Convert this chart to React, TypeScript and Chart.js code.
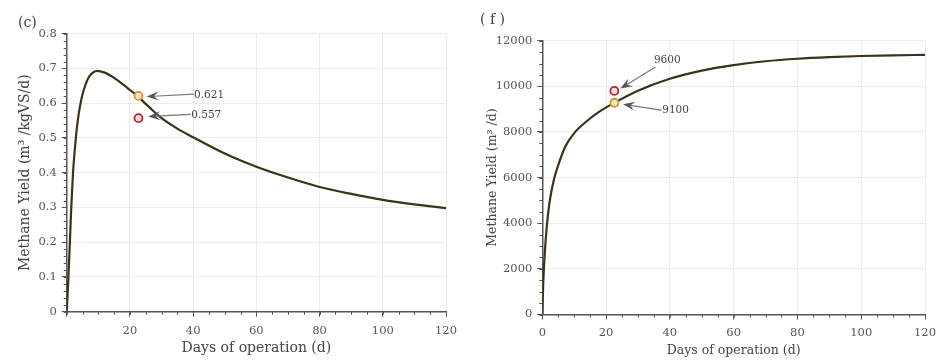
import React, { useEffect, useRef } from "react";
import { Chart, registerables } from "chart.js";

Chart.register(...registerables);

// ---------- Panel (c) data ----------
const leftDays = [0, 0.5, 1, 1.5, 2, 2.5, 3, 3.5, 4, 4.5, 5, 5.9, 6.9, 8, 9.6, 12, 15, 18, 20, 22.7, 25, 27.5, 30, 35, 40, 50, 60, 70, 80, 90, 100, 110, 120];
const leftYield = [0, 0.09, 0.2, 0.31, 0.4, 0.46, 0.51, 0.55, 0.58, 0.605, 0.625, 0.652, 0.673, 0.686, 0.693, 0.688, 0.673, 0.653, 0.638, 0.618, 0.598, 0.577, 0.557, 0.527, 0.502, 0.455, 0.417, 0.386, 0.359, 0.339, 0.322, 0.309, 0.298];
const leftMarkDay = [22.7, 22.7];
const leftMarkYield = [0.621, 0.557];
const leftMarkLabels = ["0.621", "0.557"];

// ---------- Panel (f) data ----------
const rightDays = [0, 0.3, 0.85, 1.5, 2.2, 3, 4, 5.5, 7.2, 10, 14, 18, 22.6, 30, 40, 50, 60, 70, 80, 90, 100, 110, 120];
const rightYield = [0, 1400, 2850, 4000, 4850, 5500, 6100, 6750, 7350, 7950, 8480, 8900, 9280, 9810, 10330, 10690, 10930, 11100, 11210, 11280, 11330, 11360, 11380];
const rightMarkDay = [22.6, 22.6];
const rightMarkYield = [9280, 9800];
const rightMarkLabels = ["9100", "9600"];

// tick settings
const xTicks = { min: 0, max: 120, step: 20, minor: 5 };
const leftYTicks = { min: 0, max: 0.8, step: 0.1, minor: 0.02 };
const rightYTicks = { min: 0, max: 12000, step: 2000, minor: 500 };

const FONT = '"DejaVu Serif", serif';
const LINE_COLOR = "#3a3318";
const ORANGE = "#d9971a";
const RED = "#c21a30";
const FILL = "#e7e3d6";

// annotation layout: text anchor, arrow tail, arrow tip (data units)
const leftNotes = [
  { text: leftMarkLabels[0], at: [40.3, 0.624], from: [40.2, 0.626], to: [25.3, 0.619] },
  { text: leftMarkLabels[1], at: [39.4, 0.566], from: [39.3, 0.568], to: [25.8, 0.562] },
];
const rightNotes = [
  { text: rightMarkLabels[1], at: [35.0, 11150], from: [35.5, 10850], to: [24.5, 9900] },
  { text: rightMarkLabels[0], at: [37.6, 8960], from: [37.3, 8960], to: [25.3, 9210] },
];

const arrowPlugin = {
  id: "arrows",
  afterDatasetsDraw(chart: any, _args: any, opts: any) {
    const notes = opts.notes || [];
    const { ctx } = chart;
    const xs = chart.scales.x;
    const ys = chart.scales.y;
    ctx.save();
    for (const n of notes) {
      const x0 = xs.getPixelForValue(n.from[0]);
      const y0 = ys.getPixelForValue(n.from[1]);
      const x1 = xs.getPixelForValue(n.to[0]);
      const y1 = ys.getPixelForValue(n.to[1]);
      const dx = x1 - x0, dy = y1 - y0;
      const len = Math.hypot(dx, dy);
      const ux = dx / len, uy = dy / len;
      const L = 12, W = 4.5;
      ctx.strokeStyle = "#777";
      ctx.lineWidth = 1.2;
      ctx.beginPath();
      ctx.moveTo(x0, y0);
      ctx.lineTo(x1 - ux * L * 0.6, y1 - uy * L * 0.6);
      ctx.stroke();
      ctx.fillStyle = "#555";
      ctx.beginPath();
      ctx.moveTo(x1, y1);
      ctx.lineTo(x1 - ux * L - uy * W, y1 - uy * L + ux * W);
      ctx.lineTo(x1 - ux * L * 0.6, y1 - uy * L * 0.6);
      ctx.lineTo(x1 - ux * L + uy * W, y1 - uy * L - ux * W);
      ctx.closePath();
      ctx.fill();
      ctx.font = "10.5px " + FONT;
      ctx.fillStyle = "#444";
      ctx.textAlign = "left";
      ctx.textBaseline = "middle";
      ctx.fillText(n.text, xs.getPixelForValue(n.at[0]), ys.getPixelForValue(n.at[1]));
    }
    ctx.restore();
  },
};

const minorTickPlugin = {
  id: "minorTicks",
  afterDraw(chart: any, _args: any, opts: any) {
    const { ctx, chartArea } = chart;
    const xs = chart.scales.x;
    const ys = chart.scales.y;
    ctx.save();
    ctx.strokeStyle = "#555";
    ctx.lineWidth = 1;
    const nx = Math.round((xs.max - xs.min) / opts.xStep);
    for (let i = 0; i <= nx; i++) {
      const p = Math.round(xs.getPixelForValue(xs.min + i * opts.xStep)) + 0.5;
      ctx.beginPath();
      ctx.moveTo(p, chartArea.bottom);
      ctx.lineTo(p, chartArea.bottom + 3);
      ctx.stroke();
    }
    const ny = Math.round((ys.max - ys.min) / opts.yStep);
    for (let i = 0; i <= ny; i++) {
      const p = Math.round(ys.getPixelForValue(ys.min + i * opts.yStep)) + 0.5;
      ctx.beginPath();
      ctx.moveTo(chartArea.left, p);
      ctx.lineTo(chartArea.left - 3, p);
      ctx.stroke();
    }
    ctx.restore();
  },
};

const panelLabelPlugin = {
  id: "panelLabel",
  afterDraw(chart: any, _args: any, opts: any) {
    const { ctx } = chart;
    ctx.save();
    ctx.font = "14px " + FONT;
    ctx.fillStyle = "#444";
    ctx.textAlign = "left";
    ctx.textBaseline = "middle";
    ctx.fillText(opts.text, opts.x, opts.y);
    ctx.restore();
  },
};

function makeConfig(p: any) {
  const lineData = p.days.map((d: number, i: number) => ({ x: d, y: p.values[i] }));
  return {
    type: "line",
    data: {
      datasets: [
        {
          data: lineData,
          borderColor: LINE_COLOR,
          borderWidth: 2.2,
          pointRadius: 0,
          cubicInterpolationMode: "monotone",
          order: 2,
        },
        ...p.markDays.map((d: number, i: number) => ({
          type: "scatter",
          data: [{ x: d, y: p.markValues[i] }],
          pointRadius: 4,
          pointBorderWidth: 1.8,
          pointBackgroundColor: FILL,
          pointBorderColor: p.markColors[i],
          order: 1,
        })),
      ],
    },
    plugins: [arrowPlugin, minorTickPlugin, panelLabelPlugin],
    options: {
      responsive: false,
      animation: false,
      events: [],
      layout: { padding: p.padding },
      plugins: {
        legend: { display: false },
        tooltip: { enabled: false },
        arrows: { notes: p.notes },
        minorTicks: { xStep: xTicks.minor, yStep: p.yTicks.minor },
        panelLabel: p.label,
      },
      scales: {
        x: {
          type: "linear",
          min: xTicks.min,
          max: xTicks.max,
          afterFit: (s: any) => { s.height = p.xHeight; },
          ticks: {
            stepSize: xTicks.step,
            padding: 7,
            color: "#555",
            font: { family: FONT, size: 11.5 },
            callback: (v: number) => (v === 0 && p.hideZero ? "" : String(v)),
          },
          grid: { color: "#ececec", lineWidth: 1, tickColor: "#555", tickLength: 5 },
          border: { color: "#555", width: 1.5 },
          title: {
            display: true,
            text: "Days of operation (d)",
            color: "#444",
            font: { family: FONT, size: p.titleSize },
            padding: { top: 0, bottom: p.xTitlePad },
          },
        },
        y: {
          type: "linear",
          min: p.yTicks.min,
          max: p.yTicks.max,
          afterFit: (s: any) => { s.width = p.yWidth; },
          ticks: {
            stepSize: p.yTicks.step,
            padding: 5,
            color: "#555",
            font: { family: FONT, size: 11.5 },
            callback: p.yFormat,
          },
          grid: { color: "#ececec", lineWidth: 1, tickColor: "#555", tickLength: 5 },
          border: { color: "#555", width: 1.5 },
          title: {
            display: true,
            text: p.yTitle,
            color: "#444",
            font: { family: FONT, size: p.titleSize },
            padding: { top: p.yTitlePad, bottom: 0 },
          },
        },
      },
    },
  };
}

function Panel({ config, left, width }: any) {
  const ref = useRef<HTMLCanvasElement>(null);
  useEffect(() => {
    const c = new Chart(ref.current as any, config);
    return () => c.destroy();
  }, []);
  return (
    <div style={{ position: "absolute", left, top: 0, width, height: 364 }}>
      <canvas ref={ref} width={width} height={364} style={{ display: "block" }} />
    </div>
  );
}

export default function App() {
  const leftConfig = makeConfig({
    days: leftDays,
    values: leftYield,
    markDays: leftMarkDay,
    markValues: leftMarkYield,
    markColors: [ORANGE, RED],
    notes: leftNotes,
    yTicks: leftYTicks,
    padding: { top: 33.7, right: 24, bottom: 0, left: 0 },
    xHeight: 52.3,
    yWidth: 66.7,
    hideZero: true,
    titleSize: 14,
    xTitlePad: 7.3,
    yTitlePad: 17.1,
    yTitle: "Methane Yield (m³ /kgVS/d)",
    yFormat: (v: number) => (v === 0 ? "0" : v.toFixed(1)),
    label: { text: "(c)", x: 18, y: 23 },
  });
  const rightConfig = makeConfig({
    days: rightDays,
    values: rightYield,
    markDays: rightMarkDay,
    markValues: rightMarkYield,
    markColors: [ORANGE, RED],
    notes: rightNotes,
    yTicks: rightYTicks,
    padding: { top: 40.7, right: 25, bottom: 0, left: 0 },
    xHeight: 49.5,
    yWidth: 72.3,
    hideZero: false,
    titleSize: 12.5,
    xTitlePad: 5.8,
    yTitlePad: 15,
    yTitle: "Methane Yield (m³ /d)",
    yFormat: (v: number) => String(v),
    label: { text: "( f )", x: 10, y: 20 },
  });
  return (
    <div style={{ position: "absolute", left: 0, top: 0, width: 950, height: 364, background: "#fff" }}>
      <Panel config={leftConfig} left={0} width={470} />
      <Panel config={rightConfig} left={470} width={480} />
    </div>
  );
}
